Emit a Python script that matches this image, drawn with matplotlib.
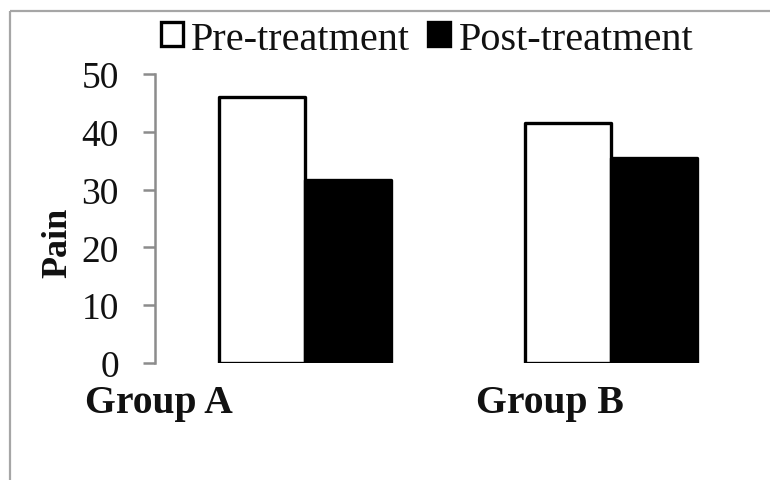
import numpy as np
import matplotlib
matplotlib.use("Agg")
import matplotlib.pyplot as plt
from matplotlib.patches import Patch
from matplotlib.lines import Line2D

plt.rcParams["font.family"] = ["Liberation Serif", "DejaVu Serif"]

groups = ["Group A", "Group B"]
series_names = ["Pre-treatment", "Post-treatment"]
pre_treatment = [46.0, 41.5]
post_treatment = [31.7, 35.5]
y_ticks = [0, 10, 20, 30, 40, 50]

W, H = 770, 481
fig = plt.figure(figsize=(W / 100, H / 100), dpi=100)

# outer frame of the exported chart (only top and left edges fall inside)
frame_kw = dict(transform=fig.transFigure, color="#a6a6a6", linewidth=1.6,
                solid_capstyle="butt")
fig.add_artist(Line2D([10 / W, 10 / W], [-0.05, 1 - 12 / H], **frame_kw))
fig.add_artist(Line2D([10 / W, 1.05], [1 - 12 / H, 1 - 12 / H], **frame_kw))

ax = fig.add_axes([155 / W, (H - 364) / H, 609 / W, 289 / H])

x = np.arange(len(groups))
bw = 0.281
ax.bar(x - bw / 2, pre_treatment, bw, color="white", edgecolor="black",
       linewidth=2.4, joinstyle="round", label=series_names[0])
ax.bar(x + bw / 2, post_treatment, bw, color="black", edgecolor="black",
       linewidth=2.4, joinstyle="round", label=series_names[1])

ax.set_xlim(-0.49, 1.5)
ax.set_ylim(0, 50)
ax.set_yticks(y_ticks)
ax.set_xticks([])
for s in ["top", "right", "bottom"]:
    ax.spines[s].set_visible(False)
ax.spines["left"].set_color("#8c8c8c")
ax.spines["left"].set_linewidth(1.8)
ax.tick_params(axis="y", direction="out", length=9, width=1.8, color="#8c8c8c",
               pad=17, labelsize=27, labelcolor="#111111")

fig.text(58 / W, 1 - 243 / H, "Pain", rotation=90, ha="center", va="center",
         fontsize=26, fontweight="bold", color="#111111")

# category labels sit under the bars as separate text boxes
label_left = [85, 476]
for name, lx in zip(groups, label_left):
    fig.text(lx / W, 1 - 413 / H, name, ha="left", va="baseline",
             fontsize=28.5, fontweight="bold", color="#111111")

handles = [Patch(facecolor="white", edgecolor="black", linewidth=2.4),
           Patch(facecolor="black", edgecolor="black", linewidth=2.4)]
fig.legend(handles, series_names, loc="center left", bbox_to_anchor=(161 / W, 1 - 40 / H),
           ncol=2, frameon=False, fontsize=29, handlelength=0.55, handleheight=0.55,
           handletextpad=0.2, columnspacing=0.45, borderaxespad=0, borderpad=0,
           labelcolor="#111111")

fig.savefig("out.png", dpi=100)
